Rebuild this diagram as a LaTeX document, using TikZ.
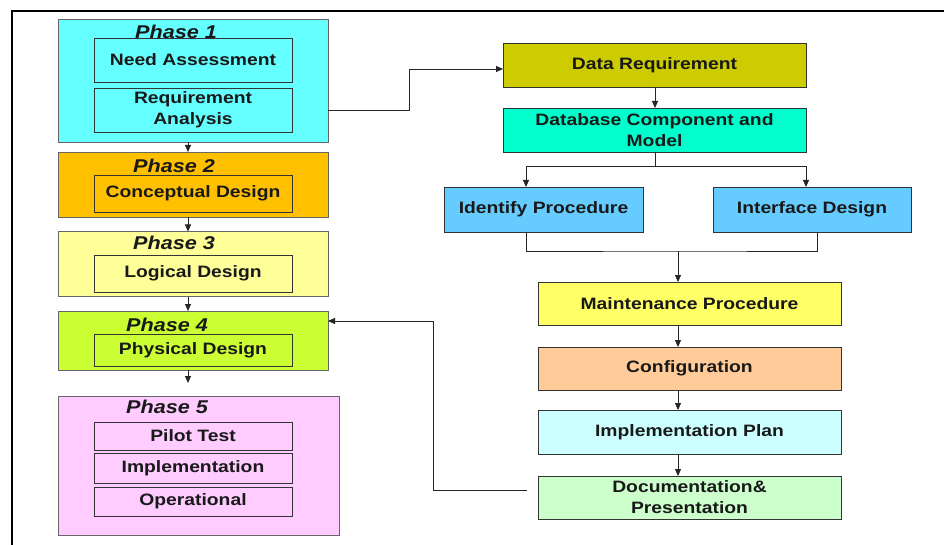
\documentclass[tikz,border=0pt]{standalone}
\usepackage{fontspec}
\newfontfamily\lab{Liberation Sans}[FakeStretch=1.17]
\usetikzlibrary{arrows.meta,calc}
\definecolor{cPa}{RGB}{102,255,255}
\definecolor{cPb}{RGB}{255,192,0}
\definecolor{cPc}{RGB}{255,255,153}
\definecolor{cPd}{RGB}{204,255,51}
\definecolor{cPe}{RGB}{255,204,255}
\definecolor{cDR}{RGB}{204,204,0}
\definecolor{cDB}{RGB}{0,255,204}
\definecolor{cID}{RGB}{102,204,255}
\definecolor{cMP}{RGB}{255,255,102}
\definecolor{cCF}{RGB}{255,204,153}
\definecolor{cIP}{RGB}{204,255,255}
\definecolor{cDC}{RGB}{204,255,204}
\begin{document}
\begin{tikzpicture}[x=1pt,y=1pt,
  base/.style={inner sep=0pt, outer sep=0pt, align=center,
    font=\lab\fontsize{16.5}{21}\selectfont\bfseries, text=black!90, line width=0.8pt},
  phase/.style={base, draw=black!60, fill=#1},
  inner/.style={base, draw=black!80, fill=#1, minimum width=198pt},
  rbox/.style={base, draw=black!80, fill=#1},
  ptitle/.style={inner sep=0pt, font=\lab\fontsize{18.5}{22}\selectfont\bfseries\itshape, text=black!90},
  arr/.style={line width=0.9pt, draw=black!85, -{Triangle[length=7pt,width=6pt]}},
  ln/.style={line width=0.9pt, draw=black!85}
]
\useasboundingbox (0,0) rectangle (944,-545);
\fill[white] (0,0) rectangle (944,-545);
% frame
\draw[line width=1.5pt] (12,-545) -- (12,-11) -- (944,-11);

% left phases
\node[phase=cPa, minimum width=270pt, minimum height=123pt] (p1) at (193,-80.5) {};
\node[ptitle] (t1) at (176,-32) {Phase 1};
\node[inner=cPa, minimum height=44pt] (na) at (193,-60) {Need Assessment};
\node[inner=cPa, minimum height=44pt] (ra) at (193,-110) {Requirement\\Analysis};

\node[phase=cPb, minimum width=270pt, minimum height=65pt] (p2) at (193,-184.5) {};
\node[ptitle] (t2) at (174,-166) {Phase 2};
\node[inner=cPb, minimum height=37pt] (cd) at (193,-193.5) {Conceptual Design};

\node[phase=cPc, minimum width=270pt, minimum height=65pt] (p3) at (193,-264) {};
\node[ptitle] (t3) at (174,-243) {Phase 3};
\node[inner=cPc, minimum height=37pt] (ld) at (193,-273.5) {Logical Design};

\node[phase=cPd, minimum width=270pt, minimum height=59pt] (p4) at (193,-340.5) {};
\node[ptitle] (t4) at (167,-325) {Phase 4};
\node[inner=cPd, minimum height=32pt] (pd) at (193,-350) {Physical Design};

\node[phase=cPe, minimum width=281pt, minimum height=139pt] (p5) at (198.5,-465.5) {};
\node[ptitle] (t5) at (167,-407) {Phase 5};
\node[inner=cPe, minimum height=28pt] (pt) at (193,-436) {Pilot Test};
\node[inner=cPe, minimum height=30pt] (im) at (193,-468) {Implementation};
\node[inner=cPe, minimum height=29pt] (op) at (193,-501.5) {Operational};

% right boxes
\node[rbox=cDR, minimum width=303pt, minimum height=44pt] (dr) at (654.5,-65) {Data Requirement};
\node[rbox=cDB, minimum width=303pt, minimum height=44pt] (db) at (654.5,-130) {Database Component and\\Model};
\node[rbox=cID, minimum width=199pt, minimum height=45pt] (ip) at (543.5,-209.5) {Identify Procedure};
\node[rbox=cID, minimum width=198pt, minimum height=45pt] (id) at (812,-209.5) {Interface Design};
\node[rbox=cMP, minimum width=303pt, minimum height=43pt] (mp) at (689.5,-303.5) {Maintenance Procedure};
\node[rbox=cCF, minimum width=303pt, minimum height=43pt] (cf) at (689.5,-368.5) {Configuration};
\node[rbox=cIP, minimum width=303pt, minimum height=44pt] (pl) at (689.5,-432) {Implementation Plan};
\node[rbox=cDC, minimum width=303pt, minimum height=43pt] (dc) at (689.5,-497.5) {Documentation\&\\Presentation};

% helper coordinates
\coordinate (xL) at (188,0);
\coordinate (xA) at (526,0);
\coordinate (xC) at (806,0);
\coordinate (xD) at (817,0);
\coordinate (xB) at (678,0);
\coordinate (j1) at (409,-69);
\coordinate (s1) at (655,-166);
\coordinate (s2) at (678,-251);
\coordinate (e4) at (188,-383);
\coordinate (f1) at (433,-321);

% left chain
\draw[arr] (p1.south -| xL) -- (p2.north -| xL);
\draw[arr] (p2.south -| xL) -- (p3.north -| xL);
\draw[arr] (p3.south -| xL) -- (p4.north -| xL);
\draw[arr] (p4.south -| xL) -- (e4);

% phase 1 to data requirement
\draw[arr] (ra.east -| p1.east) -| (j1) -- (j1 -| dr.west);

% right chain
\draw[arr] (dr.south -| s1) -- (db.north -| s1);
\draw[ln] (db.south -| s1) -- (s1);
\draw[arr] (s1) -| (ip.north -| xA);
\draw[arr] (s1) -| (id.north -| xC);
\draw[ln] (ip.south -| xA) |- (s2) -| (id.south -| xD);
\draw[arr] (s2) -- (mp.north -| xB);
\draw[arr] (mp.south -| xB) -- (cf.north -| xB);
\draw[arr] (cf.south -| xB) -- (pl.north -| xB);
\draw[arr] (pl.south -| xB) -- (dc.north -| xB);

% feedback
\draw[arr] ([xshift=-11pt,yshift=7.5pt]dc.west) -| (f1) -- (f1 -| p4.east);
\end{tikzpicture}
\end{document}
